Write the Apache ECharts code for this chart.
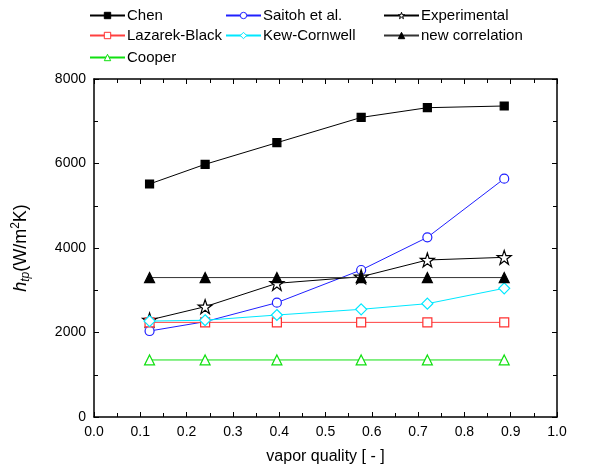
<!DOCTYPE html>
<html>
<head>
<meta charset="utf-8">
<script src="https://cdn.jsdelivr.net/npm/echarts@6/dist/echarts.min.js"></script>
<style>html,body{margin:0;padding:0;background:#fff}#c{width:592px;height:471px}</style>
</head>
<body>
<div id="c"></div>
<script>
const quality = [0.12, 0.24, 0.395, 0.577, 0.72, 0.886];
const chen = [5515, 5981, 6492, 7090, 7321, 7361];
const saitoh = [2035, 2256, 2706, 3479, 4252, 5641];
const experimental = [2296, 2611, 3164, 3320, 3716, 3779];
const lazarekBlack = [2240, 2240, 2240, 2240, 2240, 2240];
const kewCornwell = [2270, 2290, 2414, 2549, 2682, 3046];
const newCorrelation = [3300, 3300, 3300, 3300, 3300, 3300];
const cooper = [1350, 1350, 1350, 1350, 1350, 1350];
const xTicks = ['0.0','0.1','0.2','0.3','0.4','0.5','0.6','0.7','0.8','0.9','1.0'];

const STAR = 'path://M50,0 L61.8,35.4 L98,35.4 L68.5,57.3 L79.4,92.7 L50,70.8 L20.6,92.7 L31.5,57.3 L2,35.4 L38.2,35.4 Z';
const FONT = 'Liberation Sans, Arial, sans-serif';

function pts(arr){ return quality.map((q,i)=>[q, arr[i]]); }

const defs = [
  {name:'Chen', data:chen, color:'#000', symbol:'rect', size:8, fill:'#000', line:'#000'},
  {name:'Saitoh et al.', data:saitoh, color:'#2020ff', symbol:'circle', size:9, fill:'#fff', line:'#2020ff'},
  {name:'Experimental', data:experimental, color:'#000', symbol:STAR, size:14, fill:'#fff', line:'#000'},
  {name:'Lazarek-Black', data:lazarekBlack, color:'#ff3030', symbol:'rect', size:9, fill:'#fff', line:'#ff4040'},
  {name:'Kew-Cornwell', data:kewCornwell, color:'#00e8ff', symbol:'diamond', size:11, fill:'#fff', line:'#00e8ff'},
  {name:'new correlation', data:newCorrelation, color:'#000', symbol:'triangle', size:10, fill:'#000', line:'#333'},
  {name:'Cooper', data:cooper, color:'#10e010', symbol:'triangle', size:10, fill:'#fff', line:'#10e010'}
];

const legendPos = [
  {left:84, top:3}, {left:220, top:3}, {left:378, top:3},
  {left:84, top:23}, {left:220, top:23}, {left:378, top:23},
  {left:84, top:45}
];

const chart = echarts.init(document.getElementById('c'), null, {renderer:'canvas'});
chart.setOption({
  animation:false,
  backgroundColor:'#fff',
  textStyle:{fontFamily:FONT},
  legend: defs.map((d,i)=>({
    data:[{name:d.name, itemStyle:{color:d.fill, borderColor:d.color, borderWidth:1}}],
    left:legendPos[i].left, top:legendPos[i].top,
    itemWidth:35, itemHeight:8, itemGap:2,
    textStyle:{fontFamily:FONT, fontSize:15, color:'#000', padding:[0,0,0,-3]}
  })),
  grid:{left:94, right:35, top:79, bottom:54},
  xAxis:[{
    type:'value', min:0, max:1, interval:0.1,
    name:'vapor quality [ - ]', nameLocation:'middle', nameGap:32,
    nameTextStyle:{fontFamily:FONT, fontSize:16, color:'#000'},
    axisLine:{show:true, onZero:false, lineStyle:{color:'#000', width:1.5}},
    axisTick:{show:true, inside:true, length:5, lineStyle:{color:'#000', width:1}},
    minorTick:{show:true, splitNumber:2, length:4, lineStyle:{color:'#000', width:1}},
    splitLine:{show:false},
    axisLabel:{fontFamily:FONT, fontSize:14, color:'#000', margin:8, formatter:(v)=>xTicks[Math.round(v*10)]}
  },{
    type:'value', position:'top', min:0, max:1, interval:0.1,
    axisLine:{show:true, onZero:false, lineStyle:{color:'#000', width:1.5}},
    axisTick:{show:true, inside:true, length:5, lineStyle:{color:'#000', width:1}},
    minorTick:{show:true, splitNumber:2, length:4, lineStyle:{color:'#000', width:1}},
    splitLine:{show:false}, axisLabel:{show:false}
  }],
  yAxis:[{
    type:'value', min:0, max:8000, interval:2000,
    name:'{i|h}{sub|tp}{n|(W/m}{sup|2}{n|K)}', nameLocation:'middle', nameGap:62, nameRotate:90,
    nameTextStyle:{
      fontFamily:FONT, color:'#000',
      rich:{
        i:{fontFamily:FONT, fontSize:18, fontStyle:'italic', color:'#000', lineHeight:22, verticalAlign:'middle'},
        sub:{fontFamily:FONT, fontSize:12, fontStyle:'italic', color:'#000', lineHeight:22, verticalAlign:'bottom'},
        n:{fontFamily:FONT, fontSize:18, color:'#000', lineHeight:22, verticalAlign:'middle'},
        sup:{fontFamily:FONT, fontSize:12, color:'#000', lineHeight:22, verticalAlign:'top'}
      }
    },
    axisLine:{show:true, onZero:false, lineStyle:{color:'#000', width:1.5}},
    axisTick:{show:true, inside:true, length:5, lineStyle:{color:'#000', width:1}},
    minorTick:{show:true, splitNumber:2, length:4, lineStyle:{color:'#000', width:1}},
    splitLine:{show:false},
    axisLabel:{fontFamily:FONT, fontSize:14, color:'#000', margin:8, formatter:(v)=>String(v)}
  },{
    type:'value', position:'right', min:0, max:8000, interval:2000,
    axisLine:{show:true, onZero:false, lineStyle:{color:'#000', width:1.5}},
    axisTick:{show:true, inside:true, length:5, lineStyle:{color:'#000', width:1}},
    minorTick:{show:true, splitNumber:2, length:4, lineStyle:{color:'#000', width:1}},
    splitLine:{show:false}, axisLabel:{show:false}
  }],
  series: defs.map(d=>({
    name:d.name, type:'line', xAxisIndex:0, yAxisIndex:0,
    data:pts(d.data),
    symbol:d.symbol, symbolSize:d.size, showAllSymbol:true,
    lineStyle:{color:d.line, width:1},
    itemStyle:{color:d.fill, borderColor:d.color, borderWidth:1.2},
    color:d.color,
    emphasis:{disabled:true}
  }))
});
</script>
</body>
</html>
